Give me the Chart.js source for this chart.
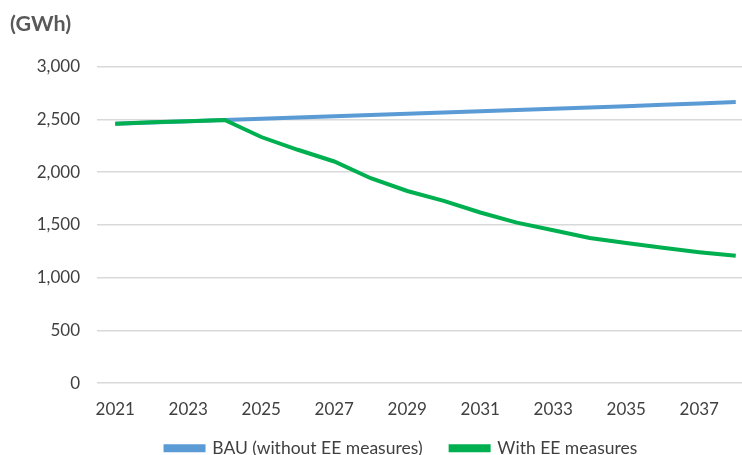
<!DOCTYPE html>
<html>
<head>
<meta charset="utf-8">
<script src="https://cdn.jsdelivr.net/npm/chart.js@4/dist/chart.umd.min.js"></script>
<style>
  html, body { margin: 0; padding: 0; background: #fff; }
  #wrap { width: 742px; height: 455px; overflow: hidden; position: relative; }
  #box { width: 754px; height: 455px; position: absolute; left: 0; top: 0; }
</style>
</head>
<body>
<div id="wrap"><div id="box"><canvas id="draw-on-me"></canvas></div></div>
<script>
const years = ['2021', '2022', '2023', '2024', '2025', '2026', '2027', '2028', '2029',
  '2030', '2031', '2032', '2033', '2034', '2035', '2036', '2037', '2038']

// GWh per year
const bau = [2459, 2472, 2484, 2495, 2507, 2519, 2530, 2542, 2554,
  2566, 2578, 2590, 2602, 2614, 2627, 2640, 2653, 2667]
const withEE = [2459, 2475, 2484, 2495, 2334, 2213, 2102, 1943, 1822,
  1729, 1618, 1522, 1449, 1376, 1328, 1283, 1242, 1207]

const unitLabel = '(GWh)'
const textColor = '#404040'
const font = 'Lato'

// spacing after each legend entry, by dataset index
const legendGap = ['\u2003\u2003\u2003\u2002', '\u2003\u2002\u2009']

const ctx = document.getElementById('draw-on-me').getContext('2d')
const myChart = new Chart(ctx, {
  type: 'line',
  data: {
    labels: years,
    datasets: [
      {
        // first in the list so it is drawn over the BAU line
        label: 'With EE measures',
        data: withEE,
        borderColor: '#00B050',
        backgroundColor: '#00B050',
        borderWidth: 4,
        pointRadius: 0,
        fill: false,
        tension: 0
      },
      {
        label: 'BAU (without EE measures)',
        data: bau,
        borderColor: '#5B9BD5',
        backgroundColor: '#5B9BD5',
        borderWidth: 4,
        pointRadius: 0,
        fill: false,
        tension: 0
      }
    ]
  },
  options: {
    responsive: true,
    maintainAspectRatio: false,
    animation: false,
    layout: { padding: { left: 10, right: 0, top: 0, bottom: -12 } },
    plugins: {
      title: {
        display: true,
        text: unitLabel,
        align: 'start',
        color: '#595959',
        font: { family: font, size: 21.5, weight: 'bold' },
        padding: { top: 11, bottom: 30 }
      },
      legend: {
        position: 'bottom',
        fullSize: false,
        labels: {
          color: textColor,
          font: { family: font, size: 17.5 },
          boxWidth: 38,
          boxHeight: 4,
          padding: 4,
          generateLabels: chart => Chart.defaults.plugins.legend.labels.generateLabels(chart)
            .map(item => ({ ...item, text: item.text + legendGap[item.datasetIndex] })),
          sort: (a, b) => b.datasetIndex - a.datasetIndex
        }
      },
      tooltip: { enabled: false }
    },
    scales: {
      x: {
        offset: true,
        afterFit: axis => { axis.height += 8 },
        grid: { display: false },
        border: { display: false },
        ticks: {
          color: textColor,
          font: { family: font, size: 17 },
          autoSkip: false,
          maxRotation: 0,
          padding: 8,
          callback: (v, i) => (i % 2 === 0 ? years[i] : '')
        }
      },
      y: {
        min: 0,
        max: 3000,
        afterFit: axis => { axis.width = 87 },
        grid: { color: '#d9d9d9', lineWidth: 1.5, drawTicks: false },
        border: { display: false },
        ticks: {
          stepSize: 500,
          color: textColor,
          font: { family: font, size: 17 },
          padding: 17,
          callback: v => v.toLocaleString('en-US')
        }
      }
    }
  }
})
</script>
</body>
</html>
